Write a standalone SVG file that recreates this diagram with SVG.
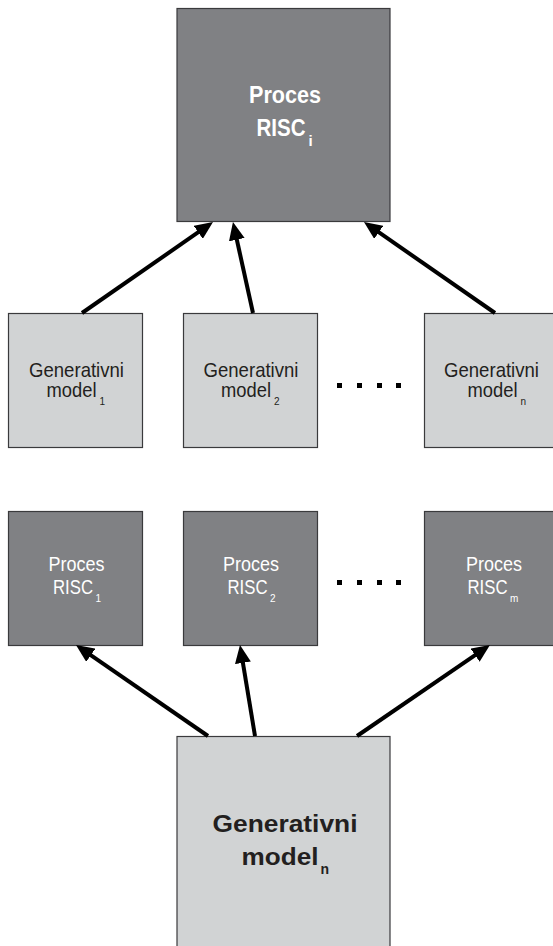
<svg xmlns="http://www.w3.org/2000/svg" width="553" height="946" viewBox="0 0 553 946">
  <style>
    .dark { fill: #808184; stroke: #3a3a3c; stroke-width: 1.2; }
    .light { fill: #d1d3d4; stroke: #3a3a3c; stroke-width: 1.2; }
    .t { font-family: "Liberation Sans", Arial, sans-serif; }
    .w { fill: #ffffff; }
    .k { fill: #231f20; }
    .big { font-size: 24px; font-weight: bold; }
    .mid { font-size: 21px; }
    .proc { font-size: 20px; }
    .sub { font-size: 10px; }
    .subi { font-size: 15px; font-weight: bold; }
    .subb { font-size: 14px; font-weight: bold; }
    .conn { stroke: #000000; stroke-width: 4; fill: none; marker-end: url(#head); }
    .dot { fill: #000000; }
  </style>
  <defs>
    <marker id="head" viewBox="0 0 18 16" refX="8" refY="8" markerWidth="18" markerHeight="16" markerUnits="userSpaceOnUse" orient="auto">
      <path d="M0,0 L18,8 L0,16 z" fill="#000000"/>
    </marker>
  </defs>

  <!-- top process -->
  <g id="proces-risc-i">
    <rect class="dark" x="177" y="8.5" width="213" height="213"/>
    <text class="t w big" x="285" y="103" text-anchor="middle" textLength="72" lengthAdjust="spacingAndGlyphs">Proces</text>
    <text class="t w big" x="256.5" y="136" textLength="49" lengthAdjust="spacingAndGlyphs">RISC</text>
    <text class="t w subi" x="308.5" y="146">i</text>
  </g>

  <!-- generative models row -->
  <g id="gen-model-1">
    <rect class="light" x="8.5" y="313.5" width="134" height="134"/>
    <text class="t k mid" x="76.5" y="377" text-anchor="middle" textLength="95" lengthAdjust="spacingAndGlyphs">Generativni</text>
    <text class="t k mid" x="46.5" y="397" textLength="50" lengthAdjust="spacingAndGlyphs">model</text>
    <text class="t k sub" x="99.5" y="405">1</text>
  </g>
  <g id="gen-model-2">
    <rect class="light" x="183.5" y="313.5" width="134" height="134"/>
    <text class="t k mid" x="251" y="377" text-anchor="middle" textLength="95" lengthAdjust="spacingAndGlyphs">Generativni</text>
    <text class="t k mid" x="221" y="397" textLength="50" lengthAdjust="spacingAndGlyphs">model</text>
    <text class="t k sub" x="274" y="405">2</text>
  </g>
  <g id="gen-model-n">
    <rect class="light" x="424.5" y="313.5" width="134" height="134"/>
    <text class="t k mid" x="491.5" y="377" text-anchor="middle" textLength="95" lengthAdjust="spacingAndGlyphs">Generativni</text>
    <text class="t k mid" x="467.5" y="397" textLength="50" lengthAdjust="spacingAndGlyphs">model</text>
    <text class="t k sub" x="520.5" y="405">n</text>
  </g>
  <g id="ellipsis-top">
    <rect class="dot" x="337" y="383" width="5" height="5"/>
    <rect class="dot" x="357" y="383" width="5" height="5"/>
    <rect class="dot" x="377" y="383" width="5" height="5"/>
    <rect class="dot" x="396" y="383" width="5" height="5"/>
  </g>

  <!-- process row -->
  <g id="proces-risc-1">
    <rect class="dark" x="8.5" y="511.5" width="134" height="134"/>
    <text class="t w proc" x="76.5" y="571" text-anchor="middle" textLength="56" lengthAdjust="spacingAndGlyphs">Proces</text>
    <text class="t w proc" x="53" y="593.5" textLength="40" lengthAdjust="spacingAndGlyphs">RISC</text>
    <text class="t w sub" x="95.5" y="602">1</text>
  </g>
  <g id="proces-risc-2">
    <rect class="dark" x="183.5" y="511.5" width="134" height="134"/>
    <text class="t w proc" x="251" y="571" text-anchor="middle" textLength="56" lengthAdjust="spacingAndGlyphs">Proces</text>
    <text class="t w proc" x="227.5" y="593.5" textLength="40" lengthAdjust="spacingAndGlyphs">RISC</text>
    <text class="t w sub" x="270" y="602">2</text>
  </g>
  <g id="proces-risc-m">
    <rect class="dark" x="424.5" y="511.5" width="134" height="134"/>
    <text class="t w proc" x="494" y="571" text-anchor="middle" textLength="56" lengthAdjust="spacingAndGlyphs">Proces</text>
    <text class="t w proc" x="467.5" y="593.5" textLength="40" lengthAdjust="spacingAndGlyphs">RISC</text>
    <text class="t w sub" x="510" y="602">m</text>
  </g>
  <g id="ellipsis-bottom">
    <rect class="dot" x="337" y="580" width="5" height="5"/>
    <rect class="dot" x="357" y="580" width="5" height="5"/>
    <rect class="dot" x="377" y="580" width="5" height="5"/>
    <rect class="dot" x="396" y="580" width="5" height="5"/>
  </g>

  <!-- bottom generative model -->
  <g id="gen-model-main">
    <rect class="light" x="177" y="736.5" width="213" height="213"/>
    <text class="t k big" x="285" y="832" text-anchor="middle" textLength="145" lengthAdjust="spacingAndGlyphs">Generativni</text>
    <text class="t k big" x="241.5" y="865" textLength="77" lengthAdjust="spacingAndGlyphs">model</text>
    <text class="t k subb" x="320.5" y="874">n</text>
  </g>

  <!-- connectors -->
  <g id="connectors">
    <line class="conn" x1="82" y1="313" x2="204.8" y2="227.7"/>
    <line class="conn" x1="253" y1="313" x2="235.1" y2="231.8"/>
    <line class="conn" x1="495" y1="313" x2="372.2" y2="227.7"/>
    <line class="conn" x1="208" y1="736" x2="84.2" y2="650.7"/>
    <line class="conn" x1="255" y1="736" x2="241.6" y2="654.9"/>
    <line class="conn" x1="357" y1="736" x2="481.7" y2="650.6"/>
  </g>
</svg>
